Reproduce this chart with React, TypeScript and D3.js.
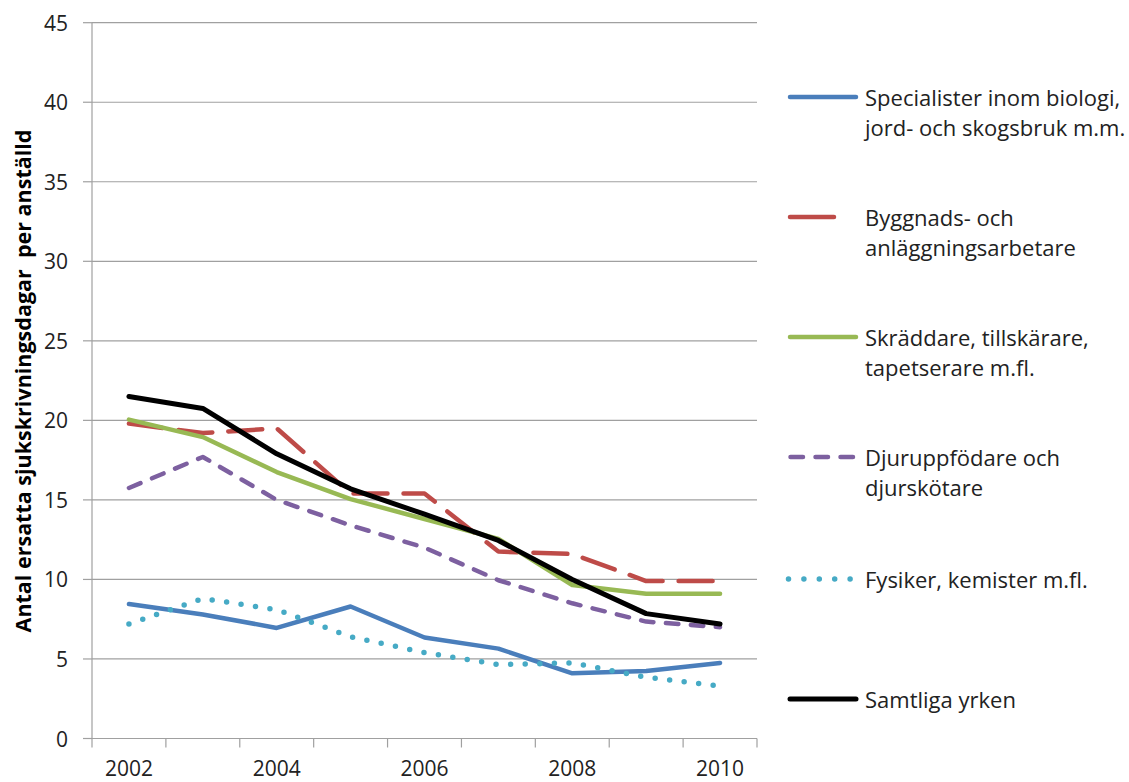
import React from 'react';
import * as d3 from 'd3';

const years = ['2002', '2003', '2004', '2005', '2006', '2007', '2008', '2009', '2010'];
const xTickLabels = ['2002', '2004', '2006', '2008', '2010'];
const yTicks = [0, 5, 10, 15, 20, 25, 30, 35, 40, 45];

const specialister = [8.45, 7.8, 6.95, 8.3, 6.35, 5.65, 4.1, 4.25, 4.75];
const byggnads = [19.8, 19.2, 19.5, 15.4, 15.4, 11.75, 11.6, 9.9, 9.9];
const skraddare = [20.05, 18.95, 16.75, 15.05, 13.8, 12.55, 9.65, 9.1, 9.1];
const djur = [15.75, 17.7, 15.0, 13.4, 12.0, 9.95, 8.5, 7.35, 7.0];
const fysiker = [7.2, 8.8, 8.1, 6.4, 5.4, 4.65, 4.75, 3.85, 3.3];
const samtliga = [21.5, 20.75, 17.9, 15.7, 14.1, 12.45, 10.0, 7.85, 7.2];

const seriesNames = [
  ['Specialister inom biologi,', 'jord- och skogsbruk m.m.'],
  ['Byggnads- och', 'anläggningsarbetare'],
  ['Skräddare, tillskärare,', 'tapetserare m.fl.'],
  ['Djuruppfödare och', 'djurskötare'],
  ['Fysiker, kemister m.fl.'],
  ['Samtliga yrken'],
];
const seriesValues = [specialister, byggnads, skraddare, djur, fysiker, samtliga];

type Style = { color: string; width: number; dash: string | null };
const styles: Style[] = [
  { color: '#4A7EBB', width: 4.5, dash: null },
  { color: '#BE4B48', width: 4.5, dash: '34 16' },
  { color: '#98B954', width: 4.5, dash: null },
  { color: '#7D60A0', width: 4.5, dash: '12.5 12.5' },
  { color: '#46AAC5', width: 5.5, dash: '0 14.6' },
  { color: '#000000', width: 5, dash: null },
];

const FONT = '"Open Sans", "Noto Sans", sans-serif';
const GRID = '#A0A0A0';
const TEXT = '#222';

export default function App() {
  const left = 92;
  const right = 757;
  const top = 22.7;
  const bottom = 738.5;

  const x = d3.scaleBand<string>().domain(years).range([left, right]).padding(0);
  const y = d3.scaleLinear().domain([0, 45]).range([bottom, top]);
  const cx = (yr: string) => (x(yr) as number) + x.bandwidth() / 2;

  const line = d3
    .line<number>()
    .x((_, i) => cx(years[i]))
    .y((d) => y(d));

  const bandEdges = years.map((yr) => x(yr) as number).concat([right]);

  const legendX0 = 788;
  const legendX1 = 858;
  const legendTextX = 865;
  const legendY = [97, 217, 337, 457, 579, 699];

  return (
    <svg
      width={1129}
      height={782}
      style={{ position: 'absolute', left: 0, top: 0, background: '#fff' }}
      fontFamily={FONT}
    >
      {yTicks
        .filter((t) => t > 0)
        .map((t) => (
          <line key={'g' + t} x1={left} x2={right} y1={y(t)} y2={y(t)} stroke={GRID} strokeWidth={1.2} />
        ))}
      <line x1={left} x2={left} y1={top} y2={bottom} stroke={GRID} strokeWidth={1.2} />
      {yTicks.map((t) => (
        <g key={'yt' + t}>
          <line x1={left - 9} x2={left} y1={y(t)} y2={y(t)} stroke={GRID} strokeWidth={1.2} />
          <text x={68} y={y(t)} textAnchor="end" dominantBaseline="central" fontSize={21} fill={TEXT}>
            {t}
          </text>
        </g>
      ))}
      <line x1={left} x2={right} y1={bottom} y2={bottom} stroke={GRID} strokeWidth={1.2} />
      {bandEdges.map((e, i) => (
        <line key={'xt' + i} x1={e} x2={e} y1={bottom} y2={bottom + 9} stroke={GRID} strokeWidth={1.2} />
      ))}
      {xTickLabels.map((yr) => (
        <text key={'xl' + yr} x={cx(yr)} y={776} textAnchor="middle" fontSize={21} fill={TEXT}>
          {yr}
        </text>
      ))}
      <text
        transform={`translate(31, 381) rotate(-90)`}
        textAnchor="middle"
        fontSize={21.5}
        fontWeight="bold"
        fill="#000"
      >
        {'Antal ersatta sjukskrivningsdagar\u00a0\u00a0per anställd'}
      </text>
      {seriesValues.map((vals, i) => (
        <path
          key={'s' + i}
          d={line(vals) || ''}
          fill="none"
          stroke={styles[i].color}
          strokeWidth={styles[i].width}
          strokeDasharray={styles[i].dash || undefined}
          strokeLinecap="round"
          strokeLinejoin="round"
        />
      ))}
      {seriesNames.map((lines, i) => {
        const ly = legendY[i];
        const st = styles[i];
        let sample;
        if (i === 1) {
          sample = <line x1={legendX0 + 2} x2={836 - 2} y1={ly} y2={ly} stroke={st.color} strokeWidth={st.width} strokeLinecap="round" />;
        } else if (i === 3) {
          sample = (
            <line x1={790.5} x2={856} y1={ly} y2={ly} stroke={st.color} strokeWidth={st.width} strokeDasharray={st.dash || undefined} strokeLinecap="round" />
          );
        } else if (i === 4) {
          sample = (
            <line x1={788.5} x2={852} y1={ly} y2={ly} stroke={st.color} strokeWidth={st.width} strokeDasharray="0 15.4" strokeLinecap="round" />
          );
        } else {
          sample = <line x1={legendX0 + 2} x2={legendX1 - 2} y1={ly} y2={ly} stroke={st.color} strokeWidth={st.width} strokeLinecap="round" />;
        }
        return (
          <g key={'l' + i}>
            {sample}
            {lines.map((t, j) => (
              <text key={j} x={legendTextX} y={ly + j * 30} dominantBaseline="central" fontSize={22} fill={TEXT}>
                {t}
              </text>
            ))}
          </g>
        );
      })}
    </svg>
  );
}
